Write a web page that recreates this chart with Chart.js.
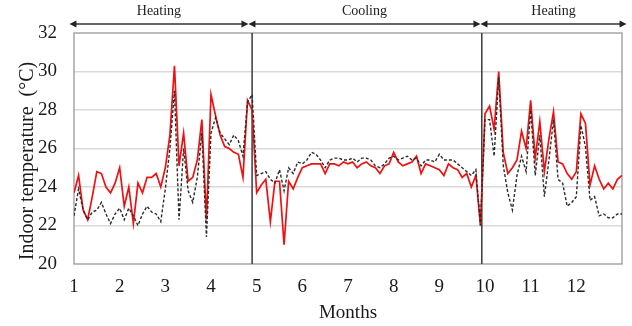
<!DOCTYPE html>
<html>
<head>
<meta charset="utf-8">
<script src="https://cdn.jsdelivr.net/npm/chart.js@4.4.1/dist/chart.umd.min.js"></script>
<style>
    html, body { margin: 0; padding: 0; background: #fff; }
</style>
</head>
<body>
<canvas id="chart" width="632" height="326"></canvas>
<script>
(function () {
    "use strict";

    // Readings every 0.1 month, from month 1.0 to 13.0
    const startMonth = 1;
    const stepMonth = 0.1;

    // Red solid series
    const redTemps = [
        23.7, 24.6, 22.8, 22.3, 23.5, 24.8, 24.7, 24.0, 23.7, 24.2,
        25.0, 23.0, 24.0, 22.1, 24.2, 23.7, 24.5, 24.5, 24.7, 24.0,
        25.0, 26.7, 30.3, 25.1, 26.8, 24.3, 24.5, 25.4, 27.5, 22.3,
        28.8, 27.7, 26.7, 26.1, 26.0, 25.8, 25.7, 24.5, 28.5, 28.0,
        23.7, 24.1, 24.4, 22.2, 24.3, 24.3, 21.0, 24.3, 23.9, 24.5,
        25.0, 25.1, 25.2, 25.2, 25.2, 24.7, 25.2, 25.2, 25.1, 25.3,
        25.2, 25.3, 25.0, 25.2, 25.3, 25.1, 25.0, 24.7, 25.1, 25.2,
        25.8, 25.3, 25.1, 25.2, 25.3, 25.6, 24.7, 25.2, 25.1, 25.0,
        24.9, 24.6, 25.2, 25.0, 24.9, 24.5, 24.7, 24.0, 24.6, 22.0,
        27.8, 28.2, 27.0, 30.0, 25.8, 24.7, 25.0, 25.4, 26.9, 26.0,
        28.5, 25.5, 27.4, 24.8, 26.5, 27.9, 25.3, 25.2, 24.7, 24.4,
        24.8, 27.8, 27.3, 24.1, 25.1, 24.4, 23.9, 24.2, 23.9, 24.4,
        24.6
    ];

    // Black dashed series
    const blackTemps = [
        22.5, 23.9, 22.8, 22.3, 22.7, 22.8, 23.2, 22.6, 22.1, 22.6,
        22.9, 22.3, 22.9, 22.5, 22.0, 22.6, 23.0, 22.7, 22.6, 22.2,
        23.9, 26.0, 29.0, 22.3, 26.0, 23.8, 23.2, 24.5, 26.8, 21.4,
        26.8, 27.6, 26.8, 26.5, 26.2, 26.7, 26.4, 25.6, 28.4, 28.8,
        24.6, 24.7, 24.8, 24.4, 24.2, 24.9, 23.8, 25.0, 24.7, 25.3,
        25.2, 25.4, 25.8, 25.7, 25.4, 25.0, 25.4, 25.5, 25.5, 25.4,
        25.4, 25.5, 25.3, 25.5, 25.5, 25.4, 25.1, 25.0, 25.2, 25.5,
        25.6, 25.4, 25.5, 25.6, 25.4, 25.5, 25.1, 25.4, 25.4, 25.3,
        25.7, 25.4, 25.4, 25.4, 25.2, 25.0, 24.8, 24.6, 24.9, 22.0,
        27.5, 27.5, 25.6, 29.7, 25.1, 23.7, 22.8, 24.6, 25.6, 24.8,
        28.0, 24.6, 26.7, 23.5, 25.4, 27.5, 24.4, 24.2, 23.0, 23.2,
        23.5, 27.2, 26.1, 23.3, 23.5, 22.5, 22.6, 22.4, 22.4, 22.6,
        22.6
    ];

    const monthTicks = [1, 2, 3, 4, 5, 6, 7, 8, 9, 10, 11, 12];
    const tempTicks = [20, 22, 24, 26, 28, 30, 32];

    // Season change lines and the arrows above the plot
    const seasonMarks = [4.9, 9.93];
    const seasons = ["Heating", "Cooling", "Heating"];
    const seasonEdges = [0.9, 4.82, 9.9, 13.1];

    const serif = "'Liberation Serif', 'Times New Roman', serif";
    const textColor = "#1a1a1a";

    const toPoints = (temps) => temps.map((t, i) => ({ x: startMonth + i * stepMonth, y: t }));

    const frame = {
        id: "frame",
        beforeDatasetsDraw(chart) {
            const { ctx, chartArea: a } = chart;
            ctx.save();
            ctx.strokeStyle = "#a6a6a6";
            ctx.lineWidth = 1.5;
            ctx.strokeRect(a.left, a.top, a.right - a.left, a.bottom - a.top);
            ctx.restore();
        },
    };

    const seasonArrows = {
        id: "seasonArrows",
        afterDraw(chart) {
            const ctx = chart.ctx;
            const xs = chart.scales.x;
            const y = 24;
            const head = (tip, dir) => {
                ctx.beginPath();
                ctx.moveTo(tip, y);
                ctx.lineTo(tip + dir * 7, y - 3.5);
                ctx.lineTo(tip + dir * 7, y + 3.5);
                ctx.closePath();
                ctx.fill();
            };
            ctx.save();
            ctx.strokeStyle = "#333";
            ctx.fillStyle = "#222";
            ctx.lineWidth = 1.3;
            seasons.forEach((name, i) => {
                const x0 = xs.getPixelForValue(seasonEdges[i]);
                const x1 = xs.getPixelForValue(seasonEdges[i + 1]);
                ctx.beginPath();
                ctx.moveTo(x0 + 5, y);
                ctx.lineTo(x1 - 5, y);
                ctx.stroke();
                head(x0, 1);
                head(x1, -1);
                ctx.font = "14px " + serif;
                ctx.textAlign = "center";
                ctx.textBaseline = "alphabetic";
                ctx.fillText(name, (x0 + x1) / 2, 15);
            });
            ctx.restore();
        },
    };

    const ctx = document.getElementById("chart").getContext("2d");

    new Chart(ctx, {
        type: "line",
        data: {
            datasets: [
                {
                    label: "Dashed",
                    data: toPoints(blackTemps),
                    borderColor: "#2b2b2b",
                    borderWidth: 1.4,
                    borderDash: [3, 2],
                    pointRadius: 0,
                    tension: 0,
                    order: 0,
                },
                {
                    label: "Red",
                    data: toPoints(redTemps),
                    borderColor: "#ee1111",
                    borderWidth: 1.7,
                    pointRadius: 0,
                    tension: 0,
                    order: 1,
                },
                ...seasonMarks.map((m) => ({
                    label: "Season",
                    data: [{ x: m, y: 20 }, { x: m, y: 32 }],
                    borderColor: "#3a3a3a",
                    borderWidth: 1.5,
                    pointRadius: 0,
                    order: 2,
                })),
            ],
        },
        options: {
            responsive: false,
            animation: false,
            layout: { padding: { top: 33, right: 10, left: 0, bottom: 0 } },
            plugins: {
                legend: { display: false },
                tooltip: { enabled: false },
            },
            scales: {
                x: {
                    type: "linear",
                    min: 1,
                    max: 13,
                    afterBuildTicks: (axis) => {
                        axis.ticks = monthTicks.map((v) => ({ value: v }));
                    },
                    afterFit: (axis) => {
                        axis.height = 62;
                    },
                    grid: { display: false, drawTicks: false },
                    border: { display: false },
                    ticks: {
                        padding: 12,
                        autoSkip: false,
                        maxRotation: 0,
                        color: textColor,
                        font: { family: serif, size: 19 },
                    },
                    title: {
                        display: true,
                        text: "Months",
                        color: textColor,
                        font: { family: serif, size: 19 },
                        padding: { top: 0, bottom: 2 },
                    },
                },
                y: {
                    min: 20,
                    max: 32,
                    afterBuildTicks: (axis) => {
                        axis.ticks = tempTicks.map((v) => ({ value: v }));
                    },
                    afterFit: (axis) => {
                        axis.width = 74;
                    },
                    grid: {
                        drawTicks: false,
                        lineWidth: 1.5,
                        color: (c) =>
                            c.tick && (c.tick.value === 20 || c.tick.value === 32)
                                ? "rgba(0,0,0,0)"
                                : "#d9d9d9",
                    },
                    border: { display: false },
                    ticks: {
                        padding: 17,
                        color: textColor,
                        font: { family: serif, size: 19 },
                    },
                    title: {
                        display: true,
                        text: "Indoor temperature  (°C)     ",
                        color: textColor,
                        font: { family: serif, size: 20 },
                        padding: { top: 16, bottom: 0 },
                    },
                },
            },
        },
        plugins: [frame, seasonArrows],
    });
})();
</script>
</body>
</html>
